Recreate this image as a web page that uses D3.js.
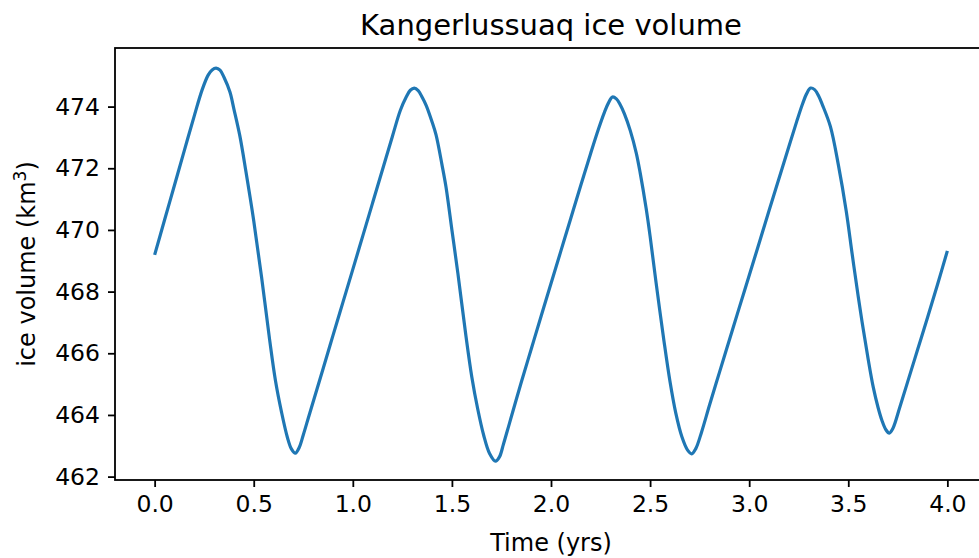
<!DOCTYPE html>
<html>
<head>
<meta charset="utf-8">
<script src="https://cdn.jsdelivr.net/npm/d3@7"></script>
<style>
  html, body { margin: 0; padding: 0; background: #fff; }
  svg { display: block; }
  text { font-family: "DejaVu Sans", sans-serif; fill: #000; }
</style>
</head>
<body>
<svg id="chart" width="979" height="558"></svg>
<script>
const years = [
  0.00, 0.05, 0.10, 0.15, 0.20, 0.24, 0.27, 0.29, 0.31, 0.33, 0.35, 0.38, 0.40, 0.43, 0.46, 0.50, 0.54, 0.58, 0.61, 0.64, 0.67, 0.69, 0.71,
  0.73, 0.75, 0.78, 0.85, 0.90, 0.95, 1.00, 1.05, 1.10, 1.15, 1.20, 1.24, 1.27, 1.29, 1.31, 1.33, 1.35, 1.37, 1.40, 1.42, 1.45, 1.47, 1.50, 1.53, 1.57, 1.60, 1.63, 1.66, 1.69, 1.72,
  1.74, 1.76, 1.79, 1.85, 1.90, 1.95, 2.00, 2.05, 2.10, 2.15, 2.20, 2.24, 2.27, 2.29, 2.31, 2.33, 2.35, 2.37, 2.40, 2.43, 2.45, 2.48, 2.50, 2.53, 2.57, 2.60, 2.63, 2.66, 2.69, 2.71,
  2.73, 2.76, 2.80, 2.85, 2.90, 2.95, 3.00, 3.05, 3.10, 3.15, 3.20, 3.24, 3.27, 3.29, 3.31, 3.33, 3.35, 3.37, 3.41, 3.45, 3.49, 3.52, 3.55, 3.575, 3.60, 3.626, 3.65, 3.67, 3.69, 3.707,
  3.725, 3.76, 3.80, 3.85, 3.90, 3.95, 4.00
];
const iceVolume = [
  469.19, 470.32, 471.45, 472.58, 473.70, 474.55, 475.02, 475.19, 475.25, 475.18, 474.95, 474.47, 473.92, 473.05, 471.92, 470.30, 468.45, 466.45, 465.10, 464.10, 463.27, 462.90, 462.76,
  462.95, 463.35, 464.00, 465.50, 466.58, 467.65, 468.72, 469.80, 470.88, 471.96, 473.04, 473.88, 474.32, 474.53, 474.60, 474.52, 474.30, 474.04, 473.50, 473.08, 472.11, 471.40, 470.00, 468.60, 466.60, 465.25, 464.20, 463.35, 462.75, 462.50,
  462.64, 463.05, 463.72, 465.06, 466.13, 467.20, 468.26, 469.32, 470.38, 471.44, 472.48, 473.28, 473.82, 474.12, 474.31, 474.25, 474.05, 473.77, 473.22, 472.50, 471.85, 470.70, 469.80, 468.30, 466.40, 465.10, 464.05, 463.30, 462.85, 462.74,
  462.90, 463.45, 464.32, 465.38, 466.43, 467.48, 468.52, 469.57, 470.62, 471.66, 472.70, 473.52, 474.10, 474.42, 474.60, 474.55, 474.35, 474.05, 473.35, 472.11, 470.60, 469.20, 467.85, 466.80, 465.82, 464.90, 464.25, 463.82, 463.52, 463.41,
  463.56, 464.25, 465.08, 466.12, 467.16, 468.22, 469.32
];
const xTicks = [0.0, 0.5, 1.0, 1.5, 2.0, 2.5, 3.0, 3.5, 4.0];
const yTicks = [462, 464, 466, 468, 470, 472, 474];
const titleText = "Kangerlussuaq ice volume";
const xLabelText = "Time (yrs)";

const svg = d3.select("#chart");
const mLeft = 115, mRight = 987, mTop = 48, mBottom = 480;
const x = d3.scaleLinear().domain([-0.2, 4.2]).range([mLeft, mRight]);
const y = d3.scaleLinear().domain([461.89, 475.90]).range([mBottom, mTop]);

const data = years.map((t, i) => ({ t, v: iceVolume[i] }));

// line
svg.append("path")
  .datum(data)
  .attr("fill", "none")
  .attr("stroke", "#1f77b4")
  .attr("stroke-width", 3.2)
  .attr("stroke-linejoin", "round")
  .attr("stroke-linecap", "butt")
  .attr("d", d3.line().x(d => x(d.t)).y(d => y(d.v)).curve(d3.curveCatmullRom.alpha(0.5)));

// axes
const xAxis = d3.axisBottom(x).tickValues(xTicks).tickFormat(d3.format(".1f")).tickSize(7).tickSizeOuter(0).tickPadding(8);
const yAxis = d3.axisLeft(y).tickValues(yTicks).tickFormat(d3.format("d")).tickSize(7).tickSizeOuter(0).tickPadding(8);

const gx = svg.append("g").attr("transform", `translate(0,${mBottom})`).call(xAxis);
const gy = svg.append("g").attr("transform", `translate(${mLeft},0)`).call(yAxis);
[gx, gy].forEach(g => {
  g.select(".domain").remove();
  g.selectAll(".tick line").attr("stroke", "#000").attr("stroke-width", 1.8);
  g.selectAll(".tick text").attr("font-size", 23.5).attr("font-family", "DejaVu Sans, sans-serif").attr("fill", "#000");
});

// spines
svg.append("rect")
  .attr("x", mLeft).attr("y", mTop)
  .attr("width", mRight - mLeft).attr("height", mBottom - mTop)
  .attr("fill", "none").attr("stroke", "#000").attr("stroke-width", 1.8);

// title
svg.append("text")
  .attr("x", (mLeft + mRight) / 2).attr("y", 35)
  .attr("text-anchor", "middle")
  .attr("font-size", 29)
  .text(titleText);

// x label
svg.append("text")
  .attr("x", (mLeft + mRight) / 2).attr("y", 551)
  .attr("text-anchor", "middle")
  .attr("font-size", 24)
  .text(xLabelText);

// y label
const yl = svg.append("text")
  .attr("transform", `translate(35,${(mTop + mBottom) / 2}) rotate(-90)`)
  .attr("text-anchor", "middle")
  .attr("font-size", 24);
yl.append("tspan").text("ice volume (km");
yl.append("tspan").attr("font-size", 17).attr("dy", -9).text("3");
yl.append("tspan").attr("dy", 9).text(")");
</script>
</body>
</html>
